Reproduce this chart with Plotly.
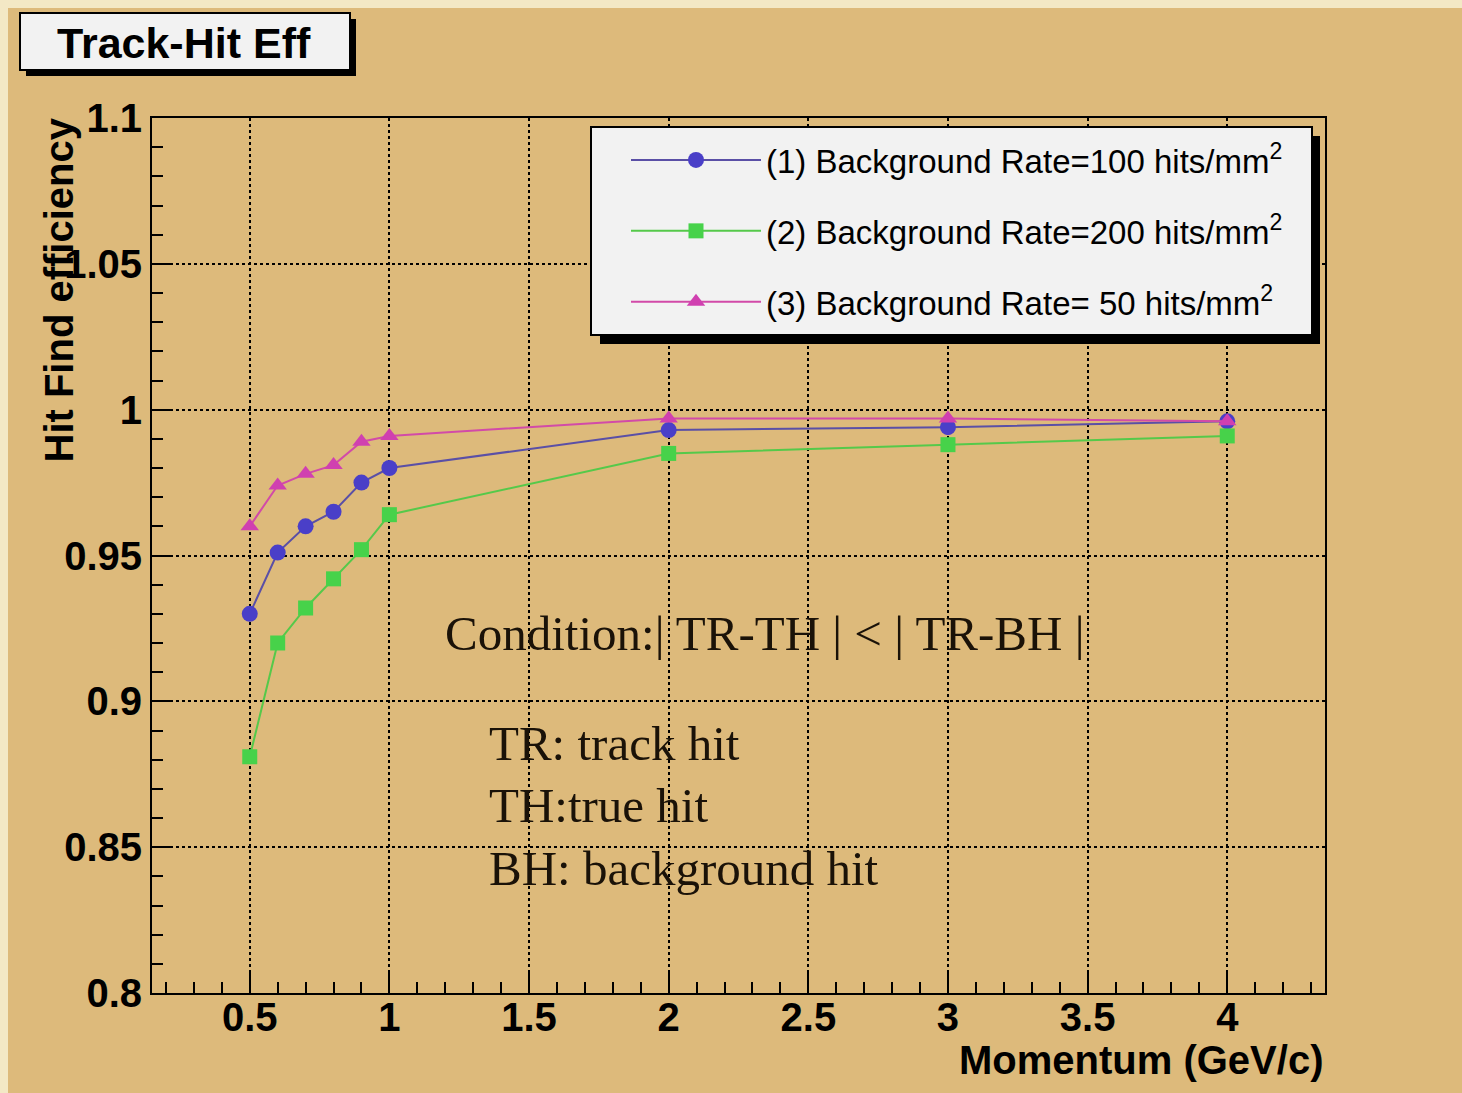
import plotly.graph_objects as go

# ---------------- data ----------------
momentum = [0.5, 0.6, 0.7, 0.8, 0.9, 1.0, 2.0, 3.0, 4.0]
eff_100 = [0.930, 0.951, 0.960, 0.965, 0.975, 0.980, 0.993, 0.994, 0.996]
eff_200 = [0.881, 0.920, 0.932, 0.942, 0.952, 0.964, 0.985, 0.988, 0.991]
eff_50 = [0.960, 0.974, 0.978, 0.981, 0.989, 0.991, 0.997, 0.997, 0.996]

series_names = [
    "(1) Background Rate=100 hits/mm<sup>2</sup>",
    "(2) Background Rate=200 hits/mm<sup>2</sup>",
    "(3) Background Rate= 50 hits/mm<sup>2</sup>",
]
x_tickvals = [0.5, 1, 1.5, 2, 2.5, 3, 3.5, 4]
x_ticktext = ["0.5", "1", "1.5", "2", "2.5", "3", "3.5", "4"]
y_tickvals = [0.8, 0.85, 0.9, 0.95, 1.0, 1.05, 1.1]
y_ticktext = ["0.8", "0.85", "0.9", "0.95", "1", "1.05", "1.1"]

# ---------------- layout geometry (reference pixel coords) ----------------
W, H = 1462, 1093
OFF = 8  # default page body margin
L, R, T, B = 152, 1325, 118, 993
BG = "#DDBA7B"
CREAM = "#F3E8C5"
BOXFILL = "#F2F2F2"


def px(x):
    return (x - L) / (R - L)


def py(y):
    return (B - y) / (B - T)


fig = go.Figure()

styles = [
    dict(line=dict(color="#5A4FA6", width=2),
         marker=dict(symbol="circle", size=16, color="#4A3FC8")),
    dict(line=dict(color="#55C94A", width=2),
         marker=dict(symbol="square", size=15, color="#47D24A")),
    dict(line=dict(color="#D24AA8", width=2),
         marker=dict(symbol="triangle-up", size=16, color="#D040B0")),
]
for i, (ys, name) in enumerate(zip([eff_100, eff_200, eff_50], series_names)):
    fig.add_trace(go.Scatter(
        x=momentum, y=ys, mode="lines+markers", name=name,
        legendgroup=f"g{i}", **styles[i]))

shapes = []
# title box with shadow
shapes.append(dict(type="rect", xref="paper", yref="paper",
                   x0=px(26), x1=px(356), y0=py(76), y1=py(19),
                   fillcolor="black", line=dict(width=0), layer="above"))
shapes.append(dict(type="rect", xref="paper", yref="paper",
                   x0=px(20), x1=px(350), y0=py(70), y1=py(13),
                   fillcolor=BOXFILL, line=dict(color="black", width=2), layer="above"))
# legend box with shadow
shapes.append(dict(type="rect", xref="paper", yref="paper",
                   x0=px(600), x1=px(1320), y0=py(344), y1=py(136),
                   fillcolor="black", line=dict(width=0), layer="above"))
shapes.append(dict(type="rect", xref="paper", yref="paper",
                   x0=px(591), x1=px(1312), y0=py(335), y1=py(127),
                   fillcolor=BOXFILL, line=dict(color="black", width=2), layer="above"))

SERIF = dict(family="Liberation Serif", size=49, color="#1a1208")
annotations = [
    dict(text="Track-Hit Eff", xref="paper", yref="paper",
         x=px(184), y=py(43), xanchor="center", yanchor="middle", showarrow=False,
         font=dict(family="Liberation Sans", size=43, color="black", weight="bold")),
    dict(text="Momentum (GeV/c)", xref="paper", yref="paper",
         x=1.0, y=py(1060), xanchor="right", yanchor="middle", showarrow=False,
         font=dict(family="Liberation Sans", size=40, color="black", weight="bold")),
    dict(text="Hit Find efficiency", xref="paper", yref="paper", textangle=-90,
         x=px(58), y=py(116), xanchor="center", yanchor="top", showarrow=False,
         font=dict(family="Liberation Sans", size=40, color="black", weight="bold")),
    dict(text="Condition:| TR-TH | < | TR-BH |", xref="paper", yref="paper",
         x=px(443), y=py(634), xanchor="left", yanchor="middle", showarrow=False,
         font=SERIF),
    dict(text="TR: track hit", xref="paper", yref="paper",
         x=px(487), y=py(743), xanchor="left", yanchor="middle", showarrow=False,
         font=SERIF),
    dict(text="TH:true hit", xref="paper", yref="paper",
         x=px(487), y=py(805), xanchor="left", yanchor="middle", showarrow=False,
         font=SERIF),
    dict(text="BH: background hit", xref="paper", yref="paper",
         x=px(487), y=py(868), xanchor="left", yanchor="middle", showarrow=False,
         font=SERIF),
]

axis_common = dict(
    showline=True, linecolor="black", linewidth=2, mirror=True,
    ticks="inside", tickcolor="black", tickwidth=2,
    showgrid=True, gridcolor="black", gridwidth=1.5, griddash="3px,3px",
    zeroline=False,
    tickfont=dict(family="Liberation Sans", size=40, color="black", weight="bold"),
)

fig.update_layout(
    width=W - OFF, height=H - OFF,
    margin=dict(l=L - OFF, r=W - R, t=T - OFF, b=H - B, autoexpand=False),
    paper_bgcolor=BG, plot_bgcolor=BG,
    showlegend=True,
    legend=dict(
        x=px(626), y=py(132), xanchor="left", yanchor="top",
        bgcolor="rgba(0,0,0,0)", borderwidth=0,
        font=dict(family="Liberation Sans", size=33, color="black"),
        tracegroupgap=25, itemwidth=130, traceorder="grouped",
    ),
    xaxis=dict(
        range=[0.15, 4.35], tickvals=x_tickvals, ticktext=x_ticktext,
        ticklen=20, ticklabelstandoff=-12,
        minor=dict(dtick=0.1, ticks="inside", ticklen=11,
                   tickcolor="black", tickwidth=1.5, showgrid=False),
        **axis_common),
    yaxis=dict(
        range=[0.8, 1.1], tickvals=y_tickvals, ticktext=y_ticktext,
        ticklen=20,
        minor=dict(dtick=0.01, tick0=0.8, ticks="inside", ticklen=11,
                   tickcolor="black", tickwidth=1.5, showgrid=False),
        **axis_common),
    shapes=shapes,
    annotations=annotations,
)

page_bg = ("linear-gradient(%s 8px, rgba(0,0,0,0) 8px), "
           "linear-gradient(to right, %s 8px, %s 8px)") % (CREAM, CREAM, BG)
fig.write_html("out.html",
               post_script="document.body.style.background='%s';" % page_bg)
